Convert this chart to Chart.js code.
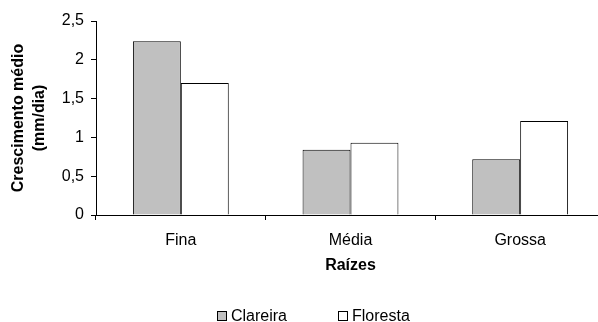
<!DOCTYPE html>
<html>
<head>
<meta charset="utf-8">
<script src="https://cdn.jsdelivr.net/npm/chart.js@4/dist/chart.umd.min.js"></script>
<style>
html,body{margin:0;padding:0;overflow:hidden;background:#fff;}
#wrap{width:605px;height:322px;position:relative;}
</style>
</head>
<body>
<div id="wrap"><canvas id="c" width="605" height="322"></canvas></div>
<script>
const categories = ['Fina', 'Média', 'Grossa'];
const clareira = [2.24, 0.84, 0.72];
const floresta = [1.70, 0.93, 1.21];
const seriesNames = ['Clareira', 'Floresta'];
const yTicks = [0, 0.5, 1, 1.5, 2, 2.5];
const yTitle = ['Crescimento médio', '(mm/dia)'];
const xTitle = 'Raízes';

const FONT = '"Liberation Sans", Arial, sans-serif';

const legendPlugin = {
  id: 'customLegend',
  afterDraw(chart) {
    const ctx = chart.ctx;
    const xs = [217, 338];
    ctx.save();
    ctx.font = '16px ' + FONT;
    ctx.textBaseline = 'alphabetic';
    chart.data.datasets.forEach((ds, i) => {
      ctx.fillStyle = ds.backgroundColor;
      ctx.fillRect(xs[i] + 0.5, 311.5, 9, 9);
      ctx.strokeStyle = '#000';
      ctx.lineWidth = 1;
      ctx.strokeRect(xs[i] + 0.5, 311.5, 9, 9);
      ctx.fillStyle = '#000';
      ctx.fillText(ds.label, xs[i] + 14, 321);
    });
    ctx.restore();
  }
};

new Chart(document.getElementById('c'), {
  type: 'bar',
  data: {
    labels: categories,
    datasets: [
      { label: seriesNames[0], data: clareira, backgroundColor: '#c0c0c0', borderColor: '#000', borderWidth: 1 },
      { label: seriesNames[1], data: floresta, backgroundColor: '#ffffff', borderColor: '#000', borderWidth: 1 }
    ]
  },
  options: {
    responsive: false,
    animation: false,
    devicePixelRatio: 1,
    layout: { padding: { top: 21, right: 0, bottom: 47, left: 0 } },
    datasets: { bar: { categoryPercentage: 0.565, barPercentage: 1.0 } },
    plugins: { legend: { display: false }, tooltip: { enabled: false } },
    scales: {
      x: {
        grid: { offset: true, drawOnChartArea: false, tickLength: 5, color: '#000' },
        border: { color: '#000', width: 1 },
        ticks: { color: '#000', font: { family: FONT, size: 16 }, padding: 11, maxRotation: 0 },
        title: { display: true, text: xTitle, color: '#000', font: { family: FONT, size: 16, weight: 'bold' }, padding: { top: 0, bottom: 0 } },
        afterFit(s) { s.height = 60; }
      },
      y: {
        min: 0, max: 2.5,
        afterBuildTicks(s) { s.ticks = yTicks.map(v => ({ value: v })); },
        grid: { drawOnChartArea: false, tickLength: 5, color: '#000' },
        border: { color: '#000', width: 1 },
        ticks: { color: '#000', font: { family: FONT, size: 16 }, padding: 7,
          callback: v => String(v).replace('.', ',') },
        title: { display: true, text: yTitle, color: '#000', font: { family: FONT, size: 16, weight: 'bold', lineHeight: 1.3125 }, padding: { top: 8.5, bottom: 0 } },
        afterFit(s) { s.width = 96; }
      }
    }
  },
  plugins: [legendPlugin]
});
</script>
</body>
</html>
